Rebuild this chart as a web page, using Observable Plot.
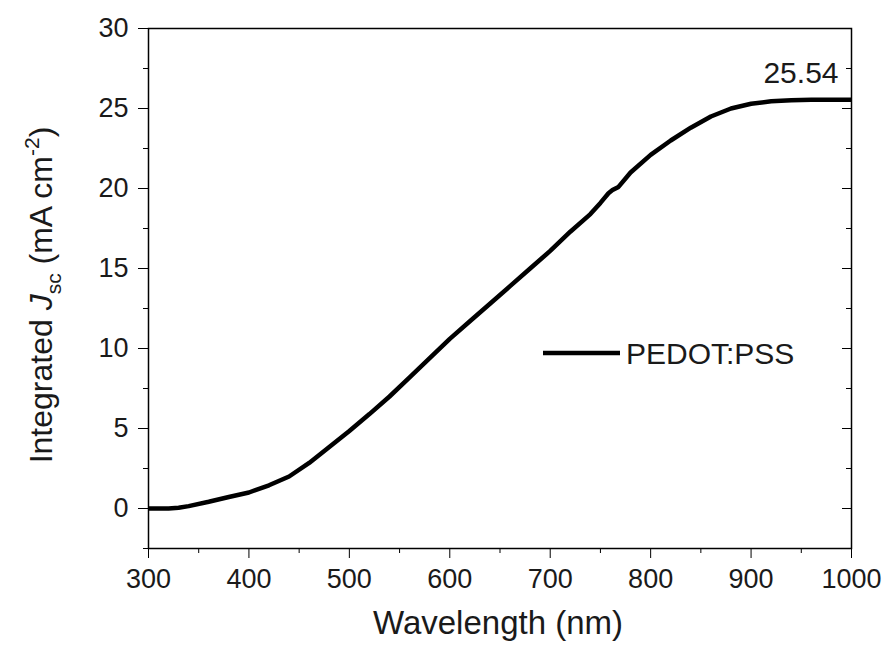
<!DOCTYPE html>
<html>
<head>
<meta charset="utf-8">
<script src="https://cdn.jsdelivr.net/npm/d3@7"></script>
<script src="https://cdn.jsdelivr.net/npm/@observablehq/plot@0.6"></script>
<style>
  body { margin: 0; background: #fff; }
  #chart { width: 885px; height: 649px; }
</style>
</head>
<body>
<div id="chart"></div>
<script>
// Wavelength (nm)
const wavelength = [300, 320, 330, 340, 360, 380, 400, 420, 440, 460, 480, 500, 520, 540, 560, 580, 600, 620, 640, 660, 680, 700, 720, 740, 750, 758, 762, 768, 780, 800, 820, 840, 860, 880, 900, 920, 940, 960, 1000];
// Integrated Jsc (mA cm^-2)
const jsc = [0.0, 0.0, 0.05, 0.15, 0.42, 0.72, 1.0, 1.45, 2.0, 2.85, 3.85, 4.85, 5.9, 7.0, 8.2, 9.4, 10.6, 11.7, 12.8, 13.9, 15.0, 16.1, 17.3, 18.4, 19.1, 19.7, 19.9, 20.1, 21.0, 22.1, 23.0, 23.8, 24.5, 25.0, 25.3, 25.45, 25.52, 25.54, 25.54];
const seriesName = "PEDOT:PSS";
const annotationX = [1000];
const annotationY = [25.54];
const xTicks = [300, 400, 500, 600, 700, 800, 900, 1000];
const xMinor = [350, 450, 550, 650, 750, 850, 950];
const yTicks = [0, 5, 10, 15, 20, 25, 30];
const yMinor = [-2.5, 2.5, 7.5, 12.5, 17.5, 22.5, 27.5];

const data = wavelength.map((w, i) => ({w, j: jsc[i]}));
const ann = annotationX.map((x, i) => ({x, y: annotationY[i]}));
const FONT = "'Liberation Sans', Arial, sans-serif";
const blank = () => "";
const plain = d => String(d);

const plot = Plot.plot({
  width: 885,
  height: 649,
  marginLeft: 148,
  marginRight: 34,
  marginTop: 28,
  marginBottom: 101,
  style: {fontFamily: FONT, fontSize: "27px", color: "#1a1a1a", background: "#fff"},
  x: {domain: [300, 1000]},
  y: {domain: [-2.5, 30]},
  marks: [
    Plot.axisX({ticks: xTicks, tickSize: 10, tickPadding: 10, fontSize: 27, tickFormat: plain, label: null, stroke: "#000"}),
    Plot.axisX({ticks: xMinor, tickSize: 5, tickFormat: blank, label: null, stroke: "#000"}),
    Plot.axisY({ticks: yTicks, tickSize: 10, tickPadding: 10, fontSize: 27, tickFormat: plain, label: null, stroke: "#000"}),
    Plot.axisY({ticks: yMinor, tickSize: 5, tickFormat: blank, label: null, stroke: "#000"}),
    Plot.axisY({anchor: "right", ticks: yTicks, tickSize: 10, dx: -10, tickFormat: blank, label: null, stroke: "#000"}),
    Plot.axisY({anchor: "right", ticks: yMinor, tickSize: 6, dx: -6, tickFormat: blank, label: null, stroke: "#000"}),
    Plot.frame({stroke: "#000", strokeWidth: 1.5}),
    Plot.line(data, {x: "w", y: "j", stroke: "#000", strokeWidth: 4.5, strokeLinejoin: "round", strokeLinecap: "butt"}),
    Plot.text(ann, {x: "x", y: "y", text: d => d.y.toFixed(2), textAnchor: "end", dx: -13, dy: -26, fontSize: 30, fill: "#1a1a1a"})
  ]
});

document.getElementById("chart").appendChild(plot);

const svg = d3.select(plot);

// x-axis title
svg.append("text")
  .attr("x", 498).attr("y", 634)
  .attr("text-anchor", "middle")
  .attr("font-family", FONT).attr("font-size", 33).attr("fill", "#1a1a1a")
  .text("Wavelength (nm)");

// y-axis title with italic J, subscript sc, superscript -2
const yt = svg.append("text")
  .attr("transform", "translate(52,295) rotate(-90)")
  .attr("text-anchor", "middle")
  .attr("font-family", FONT).attr("font-size", 32).attr("fill", "#1a1a1a");
yt.append("tspan").text("Integrated ");
yt.append("tspan").attr("font-style", "italic").text("J");
yt.append("tspan").attr("font-size", 21).attr("dy", 9).text("sc");
yt.append("tspan").attr("dy", -9).text(" (mA cm");
yt.append("tspan").attr("font-size", 21).attr("dy", -13).text("-2");
yt.append("tspan").attr("dy", 13).text(")");

// legend
const lg = svg.append("g");
lg.append("line").attr("x1", 543).attr("x2", 620).attr("y1", 353).attr("y2", 353)
  .attr("stroke", "#000").attr("stroke-width", 4.5);
lg.append("text").attr("x", 626).attr("y", 353).attr("dy", "0.36em")
  .attr("text-anchor", "start")
  .attr("font-family", FONT).attr("font-size", 30).attr("fill", "#1a1a1a")
  .text(seriesName);
</script>
</body>
</html>
